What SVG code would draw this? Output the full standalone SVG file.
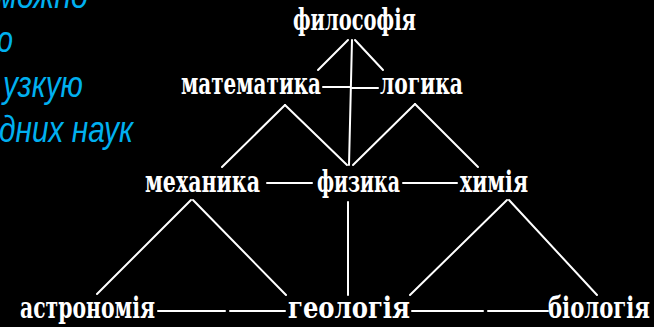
<svg xmlns="http://www.w3.org/2000/svg" width="654" height="327" viewBox="0 0 654 327">
<style>
.bg{fill:#000}
.blue{font-family:"Liberation Sans Narrow","Liberation Sans",Arial,sans-serif;font-style:italic;font-size:36px;fill:#00B0F0}
.lbl{font-family:"DejaVu Serif","Liberation Serif",serif;font-weight:bold;font-size:29px;fill:#fff}
.ln{stroke:#fff;stroke-width:2;fill:none;stroke-linecap:round}
</style>
<rect class="bg" x="0" y="0" width="654" height="327"/>
<g id="caption">
<text class="blue" x="-4" y="8" textLength="92" lengthAdjust="spacingAndGlyphs">можно</text>
<text class="blue" x="-3" y="52" textLength="16" lengthAdjust="spacingAndGlyphs">о</text>
<text class="blue" x="3" y="97" textLength="80" lengthAdjust="spacingAndGlyphs">узкую</text>
<text class="blue" x="-1" y="142" textLength="134" lengthAdjust="spacingAndGlyphs">дних наук</text>
</g>
<g id="connectors">
<line class="ln" x1="348" y1="40" x2="318" y2="70"/>
<line class="ln" x1="355" y1="40" x2="383" y2="70"/>
<line class="ln" x1="352" y1="40" x2="349" y2="165"/>
<line class="ln" x1="323" y1="87" x2="350" y2="87"/>
<line class="ln" x1="352" y1="88" x2="378" y2="88"/>
<line class="ln" x1="285" y1="105" x2="222" y2="167"/>
<line class="ln" x1="285" y1="105" x2="347" y2="165"/>
<line class="ln" x1="415" y1="104" x2="353" y2="165"/>
<line class="ln" x1="415" y1="104" x2="478" y2="167"/>
<line class="ln" x1="267" y1="183" x2="312" y2="183"/>
<line class="ln" x1="403" y1="183" x2="457" y2="183"/>
<line class="ln" x1="191" y1="200" x2="97" y2="294"/>
<line class="ln" x1="193" y1="200" x2="286" y2="295"/>
<line class="ln" x1="348" y1="202" x2="348" y2="295"/>
<line class="ln" x1="507" y1="200" x2="410" y2="295"/>
<line class="ln" x1="509" y1="200" x2="597" y2="295"/>
<line class="ln" x1="158" y1="311" x2="225" y2="311"/>
<line class="ln" x1="230" y1="311" x2="285" y2="311"/>
<line class="ln" x1="412" y1="311" x2="483" y2="311"/>
<line class="ln" x1="488" y1="311" x2="548" y2="311"/>
</g>
<g id="n-filosofiya"><text class="lbl" x="293" y="30" font-size="26" textLength="123" lengthAdjust="spacingAndGlyphs">философія</text></g>
<g id="n-matematika"><text class="lbl" x="181" y="94" textLength="140" lengthAdjust="spacingAndGlyphs">математика</text></g>
<g id="n-logika"><text class="lbl" x="380" y="94" textLength="83" lengthAdjust="spacingAndGlyphs">логика</text></g>
<g id="n-mekhanika"><text class="lbl" x="145" y="192" textLength="115" lengthAdjust="spacingAndGlyphs">механика</text></g>
<g id="n-fizika"><text class="lbl" x="317" y="192" textLength="83" lengthAdjust="spacingAndGlyphs">физика</text></g>
<g id="n-khimiya"><text class="lbl" x="460" y="192" textLength="68" lengthAdjust="spacingAndGlyphs">химія</text></g>
<g id="n-astronomiya"><text class="lbl" x="20" y="318" textLength="135" lengthAdjust="spacingAndGlyphs">астрономія</text></g>
<g id="n-geologiya"><text class="lbl" x="288" y="318" textLength="122" lengthAdjust="spacingAndGlyphs">геологія</text></g>
<g id="n-biologiya"><text class="lbl" x="548" y="318" textLength="102" lengthAdjust="spacingAndGlyphs">біологія</text></g>
</svg>
